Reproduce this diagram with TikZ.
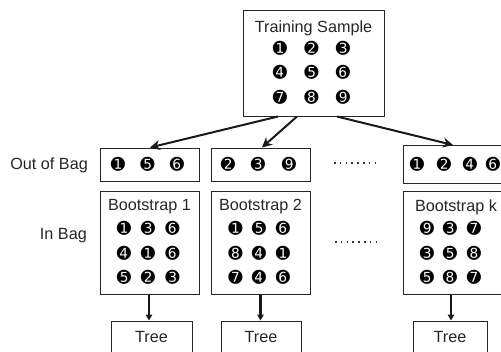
\documentclass[tikz,border=0pt]{standalone}
\usepackage{fontspec}
\setmainfont{Liberation Sans}
\newfontfamily\dingfont{DejaVu Sans}
\usetikzlibrary{arrows.meta}
\begin{document}
\begin{tikzpicture}[x=1pt,y=-1pt,
  box/.style={draw=black!85, line width=1pt, inner sep=0pt},
  lbl/.style={font=\fontsize{16.2}{18}\selectfont, text=black!85, inner sep=0pt},
  num/.style={font=\dingfont\fontsize{17}{19}\selectfont, inner sep=0pt},
  arr/.style={line width=2pt, black!90, -{Stealth[length=10pt,width=10pt]}},
  varr/.style={line width=2.4pt, black!90, -{Triangle[length=6pt,width=6.5pt]}},
  dotrow/.style={line width=1.6pt, black!80, dash pattern=on 1.6pt off 4.2pt}]
\useasboundingbox (0,0) rectangle (501,351);
\clip (0,0) rectangle (501,351);
% boxes
\node[box, minimum width=141pt, minimum height=106pt] (top) at (313.5,63) {};
\node[box, minimum width=99pt, minimum height=33pt] (oob1) at (149.5,164.5) {};
\node[box, minimum width=99pt, minimum height=33pt] (oob2) at (260.5,164.5) {};
\node[box, minimum width=98pt, minimum height=38pt] (oobk) at (452,164.5) {};
\node[box, minimum width=99pt, minimum height=103pt] (bs1) at (149.5,242.5) {};
\node[box, minimum width=99pt, minimum height=103pt] (bs2) at (260.5,242.5) {};
\node[box, minimum width=98pt, minimum height=103pt] (bsk) at (452.5,242.5) {};
\node[box, minimum width=81pt, minimum height=32pt] (tree1) at (151.5,337) {};
\node[box, minimum width=80pt, minimum height=32pt] (tree2) at (261,337) {};
\node[box, minimum width=74pt, minimum height=32pt] (treek) at (450,337) {};
% texts
\node[lbl] (tts) at (313.5,28) {Training Sample};
\node[lbl] (tb1) at (149.5,207) {Bootstrap 1};
\node[lbl] (tb2) at (260.5,207) {Bootstrap 2};
\node[lbl] (tbk) at (456,207) {Bootstrap k};
\node[lbl] (tt1) at (tree1) {Tree};
\node[lbl] (tt2) at (tree2) {Tree};
\node[lbl] (ttk) at (treek) {Tree};
\node[lbl, anchor=east] (loob) at (88,165) {Out of Bag};
\node[lbl, anchor=east] (lin) at (87,236) {In Bag};
% training sample digits
\node[num] (t1) at (280,48) {➊};
\node[num] (t2) at (311.5,48) {➋};
\node[num] (t3) at (343,48) {➌};
\node[num] (t4) at (280,72) {➍};
\node[num] (t5) at (311.5,72) {➎};
\node[num] (t6) at (343,72) {➏};
\node[num] (t7) at (280,97) {➐};
\node[num] (t8) at (311.5,97) {➑};
\node[num] (t9) at (343,97) {➒};
% out of bag digits
\node[num] (o11) at (118,164.5) {➊};
\node[num] (o12) at (147.5,164.5) {➎};
\node[num] (o13) at (177,164.5) {➏};
\node[num] (o21) at (228,164.5) {➋};
\node[num] (o22) at (258,164.5) {➌};
\node[num] (o23) at (289,164.5) {➒};
\node[num] (ok1) at (417,164.5) {➊};
\node[num] (ok2) at (444,164.5) {➋};
\node[num] (ok3) at (470,164.5) {➍};
\node[num] (ok4) at (493,164.5) {➏};
% bootstrap 1
\node[num] (b11) at (124,228) {➊};
\node[num] (b12) at (148,228) {➌};
\node[num] (b13) at (172.5,228) {➏};
\node[num] (b14) at (124,253) {➍};
\node[num] (b15) at (148,253) {➊};
\node[num] (b16) at (172.5,253) {➏};
\node[num] (b17) at (124,277) {➎};
\node[num] (b18) at (148,277) {➋};
\node[num] (b19) at (172.5,277) {➌};
% bootstrap 2
\node[num] (b21) at (235.5,228) {➊};
\node[num] (b22) at (259,228) {➎};
\node[num] (b23) at (283,228) {➏};
\node[num] (b24) at (235.5,253) {➑};
\node[num] (b25) at (259,253) {➍};
\node[num] (b26) at (283,253) {➊};
\node[num] (b27) at (235.5,277) {➐};
\node[num] (b28) at (259,277) {➍};
\node[num] (b29) at (283,277) {➏};
% bootstrap k
\node[num] (bk1) at (427,228) {➒};
\node[num] (bk2) at (450,228) {➌};
\node[num] (bk3) at (474,228) {➐};
\node[num] (bk4) at (427,253) {➌};
\node[num] (bk5) at (450,253) {➎};
\node[num] (bk6) at (474,253) {➑};
\node[num] (bk7) at (427,277) {➎};
\node[num] (bk8) at (450,277) {➑};
\node[num] (bk9) at (474,277) {➐};
% ellipses
\coordinate (d1a) at (334,163);
\coordinate (d1b) at (376,163);
\coordinate (d2a) at (335,242);
\coordinate (d2b) at (377,242);
\draw[dotrow] (d1a) -- (d1b);
\draw[dotrow] (d2a) -- (d2b);
% arrows
\draw[arr] ([xshift=-35.5pt]top.south) -- ([xshift=0.5pt]oob1.north);
\draw[arr] ([xshift=-16.5pt]top.south) -- ([xshift=1.5pt]oob2.north);
\draw[arr] ([xshift=23.5pt]top.south) -- ([xshift=1pt]oobk.north);
\draw[varr] ([xshift=-0.5pt]bs1.south) -- ([xshift=-0.5pt]bs1.south |- tree1.north);
\draw[varr] (bs2.south) -- (bs2.south |- tree2.north);
\draw[varr] ([xshift=-1.5pt]bsk.south) -- ([xshift=-1.5pt]bsk.south |- treek.north);
\end{tikzpicture}
\end{document}
